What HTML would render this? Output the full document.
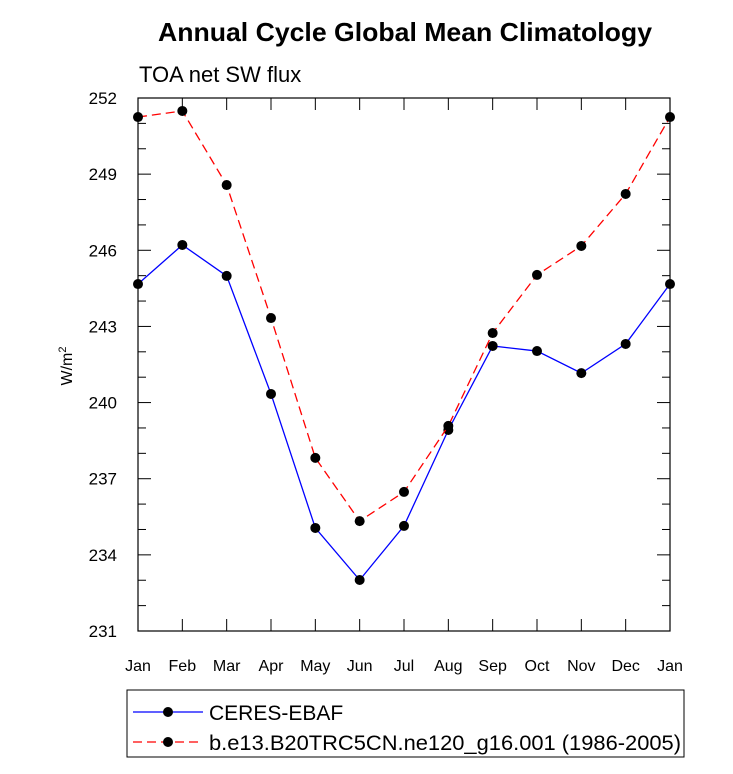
<!DOCTYPE html>
<html><head><meta charset="utf-8"><style>
html,body{margin:0;padding:0;background:#fff;}
svg text{font-family:"Liberation Sans",Arial,sans-serif;}
</style></head><body>
<svg id="chart" width="733" height="769" xmlns="http://www.w3.org/2000/svg">
<text x="405" y="41" text-anchor="middle" font-size="26" font-weight="bold" textLength="494" lengthAdjust="spacingAndGlyphs">Annual Cycle Global Mean Climatology</text>
<text x="139" y="82" font-size="22">TOA net SW flux</text>
<text transform="translate(72,366) rotate(-90)" text-anchor="middle" font-size="16">W/m<tspan dy="-6" font-size="11">2</tspan></text>
<g id="axes"></g>
<g id="series"></g>
<g>
<rect x="127" y="690" width="557" height="67" fill="none" stroke="#000" stroke-width="1"/>
<line x1="133" y1="712" x2="203" y2="712" stroke="#0000ff" stroke-width="1.2"/>
<circle cx="168" cy="712" r="5" fill="#000"/>
<text x="209" y="720" font-size="21">CERES-EBAF</text>
<line x1="133" y1="742" x2="203" y2="742" stroke="#ff0000" stroke-width="1.2" stroke-dasharray="9,5"/>
<circle cx="168" cy="742" r="5" fill="#000"/>
<text x="209" y="750" font-size="21" textLength="472" lengthAdjust="spacingAndGlyphs">b.e13.B20TRC5CN.ne120_g16.001 (1986-2005)</text>
</g>
</svg>
<script>
const months = ["Jan","Feb","Mar","Apr","May","Jun","Jul","Aug","Sep","Oct","Nov","Dec","Jan"];
const ceres = [244.67,246.21,244.99,240.34,235.06,233.01,235.14,238.92,242.23,242.03,241.16,242.31,244.67];
const model = [251.25,251.49,248.57,243.33,237.82,235.33,236.48,239.08,242.74,245.03,246.17,248.22,251.25];
const yTicks = [231,234,237,240,243,246,249,252];
const L=138,R=670,T=98,B=631,yMin=231,yMax=252;
const xs=i=>L+(R-L)*i/(months.length-1);
const ys=v=>B-(v-yMin)/(yMax-yMin)*(B-T);
const NS="http://www.w3.org/2000/svg";
function mk(tag,attrs,parent){const e=document.createElementNS(NS,tag);for(const k in attrs)e.setAttribute(k,attrs[k]);parent.appendChild(e);return e;}
const ax=document.getElementById('axes');
const frame=mk('rect',{x:L,y:T,width:R-L,height:B-T,fill:'none',stroke:'#000','stroke-width':1.2},ax);


months.forEach((m,i)=>{
  const x=xs(i);
  mk('line',{x1:x,y1:B,x2:x,y2:B-12,stroke:'#000'},ax);
  mk('line',{x1:x,y1:T,x2:x,y2:T+12,stroke:'#000'},ax);
  const t=mk('text',{x:x,y:B+40,'text-anchor':'middle','font-size':16},ax);
  t.textContent=m;
  
  
});
for(let v=yMin;v<=yMax;v++){
  const y=ys(v);const major=yTicks.includes(v);const len=major?13:8;
  mk('line',{x1:L,y1:y,x2:L+len,y2:y,stroke:'#000'},ax);
  mk('line',{x1:R,y1:y,x2:R-len,y2:y,stroke:'#000'},ax);
}
yTicks.forEach(v=>{
  const t=mk('text',{x:L-21,y:ys(v)+6,'text-anchor':'end','font-size':17},ax);
  t.textContent=v;
  
  
});
const sg=document.getElementById('series');
function draw(data,color,dash,name){
  const p=mk('polyline',{points:data.map((v,i)=>xs(i)+','+ys(v)).join(' '),fill:'none',stroke:color,'stroke-width':1.3},sg);
  if(dash)p.setAttribute('stroke-dasharray',dash);
  
  
  data.forEach((v,i)=>{
    const c=mk('circle',{cx:xs(i),cy:ys(v),r:5,fill:'#000'},sg);
    
    
  });
}
draw(ceres,'#0000ff',null,'ceres');
draw(model,'#ff0000','9,5','model');
</script>
</body></html>
